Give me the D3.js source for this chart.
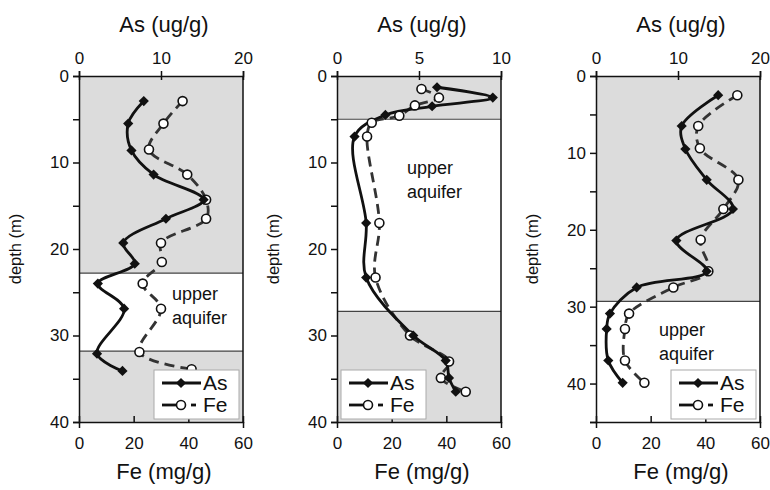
<!DOCTYPE html>
<html><head><meta charset="utf-8">
<script src="https://cdn.jsdelivr.net/npm/d3@7"></script>
<style>
body{margin:0;background:#fff;}
svg text{font-family:"Liberation Sans",Arial,sans-serif;fill:#111;}
</style></head>
<body><svg id="c" width="770" height="490"></svg>
<script>
// ---- data ----
const w1AsDepth = [2.9,5.5,8.6,11.4,14.3,16.5,19.3,21.7,24.0,26.9,32.1,34.1];
const w1As      = [7.9,6.0,6.4,9.1,15.2,10.6,5.4,6.8,2.3,5.5,2.2,5.3];
const w1FeDepth = [2.9,5.5,8.5,11.4,14.3,16.5,19.3,21.5,24.0,26.9,31.9,33.9];
const w1Fe      = [37.9,30.9,25.6,39.6,46.5,46.5,30.0,30.3,23.3,30.0,22.1,41.2];

const w2AsDepth = [1.3,2.5,3.5,4.5,7.0,17.0,23.3,30.0,32.9,34.9,36.5];
const w2As      = [6.1,9.5,5.8,2.95,1.07,1.78,1.78,4.65,6.63,6.83,7.24];
const w2FeDepth = [1.5,2.5,3.4,4.6,5.4,7.0,17.0,23.3,30.0,33.0,34.9,36.5];
const w2Fe      = [30.9,37.3,28.5,22.8,12.7,11.0,15.5,14.1,26.7,41.0,38.0,47.1];

const w3AsDepth = [2.5,6.5,9.5,13.5,17.3,21.4,25.4,27.5,30.9,32.9,37.0,39.9];
const w3As      = [14.9,10.45,10.9,13.5,16.7,9.8,13.5,4.96,1.7,1.3,1.5,3.25];
const w3FeDepth = [2.5,6.5,9.4,13.5,17.3,21.3,25.4,27.5,30.9,32.9,37.0,39.9];
const w3Fe      = [51.7,37.4,38.0,52.1,46.6,38.3,41.1,28.3,12.1,10.6,10.6,17.7];

const asMax     = [20,10,20];
const asTicks   = [[0,10,20],[0,5,10],[0,10,20]];
const feTicks   = [0,20,40,60];
const depthMax  = [40,40,45];
const depthLabelTicks = [[0,10,20,30,40],[0,10,20,30,40],[0,10,20,30,40]];
const grayZones = [[[0,22.8],[31.8,40]],[[0,5],[27.2,40]],[[0,29.3]]];
const aquiferLabelDepth = [25.9,11.3,33.8];
const seriesNames = ["As","Fe"];

// ---- layout ----
const svg = d3.select("#c");
const plotLeft = [79,337,596];
const plotW = 164;
const plotTop = 76, plotBottom = 422;
const legendPos = ["right","left","right"];
const aquiferLabelOffset = [93,70,63];

const panels = [
  {asD:w1AsDepth, as:w1As, feD:w1FeDepth, fe:w1Fe},
  {asD:w2AsDepth, as:w2As, feD:w2FeDepth, fe:w2Fe},
  {asD:w3AsDepth, as:w3As, feD:w3FeDepth, fe:w3Fe}
];

const diamond = d3.symbol().type(d3.symbolSquare).size(52);

panels.forEach((p,i)=>{
  const L = plotLeft[i], R = L+plotW;
  const y = d3.scaleLinear().domain([0,depthMax[i]]).range([plotTop,plotBottom]);
  const xAs = d3.scaleLinear().domain([0,asMax[i]]).range([L,R]);
  const xFe = d3.scaleLinear().domain([0,60]).range([L,R]);
  const g = svg.append("g");

  grayZones[i].forEach(z=>{
    g.append("rect").attr("x",L).attr("width",plotW)
      .attr("y",y(z[0])).attr("height",y(z[1])-y(z[0]))
      .attr("fill","#dcdcdc");
  });
  grayZones[i].forEach(z=>{
    z.forEach(v=>{
      if(v>0 && v<depthMax[i]){
        g.append("line").attr("x1",L).attr("x2",R).attr("y1",y(v)).attr("y2",y(v))
          .attr("stroke","#444").attr("stroke-width",1.2);
      }
    });
  });

  g.append("line").attr("x1",R).attr("x2",R).attr("y1",plotTop).attr("y2",plotBottom).attr("stroke","#111").attr("stroke-width",1.5);

  const yAxis = d3.axisLeft(y).tickValues(d3.range(0,depthMax[i]+0.1,5)).tickSize(6)
    .tickFormat(d=>depthLabelTicks[i].includes(d)?d:"");
  const ga = g.append("g").attr("transform",`translate(${L},0)`).call(yAxis);
  const topAxis = d3.axisTop(xAs).tickValues(asTicks[i]).tickSize(5).tickFormat(d3.format("d"));
  const gt = g.append("g").attr("transform",`translate(0,${plotTop})`).call(topAxis);
  const botAxis = d3.axisBottom(xFe).tickValues(feTicks).tickSize(-6).tickFormat(d3.format("d"));
  const gb = g.append("g").attr("transform",`translate(0,${plotBottom})`).call(botAxis);
  [ga,gt,gb].forEach(a=>{
    a.selectAll(".domain").attr("stroke","#111").attr("stroke-width",1.5);
    a.selectAll(".tick line").attr("stroke","#111").attr("stroke-width",1.5);
    a.selectAll("text").attr("font-size",17).style("font-family","'Liberation Sans',Arial,sans-serif").attr("fill","#111");
  });
  gt.selectAll(".tick line").attr("y2",-5).attr("y1",4);
  gt.selectAll("text").attr("y",-12);
  gb.selectAll("text").attr("y",15);
  ga.selectAll("text").attr("x",-10);
  gb.selectAll(".tick").filter(d=>d===0||d===60).select("line").attr("y1",6).attr("y2",0);

  g.append("text").attr("x",(L+R)/2+3).attr("y",32).attr("text-anchor","middle").attr("font-size",22).text("As (ug/g)");
  g.append("text").attr("x",(L+R)/2+3).attr("y",479).attr("text-anchor","middle").attr("font-size",22).text("Fe (mg/g)");
  g.append("text").attr("transform",`translate(${L-58},249) rotate(-90)`).attr("text-anchor","middle").attr("font-size",16.5).text("depth (m)");

  const ax = L + aquiferLabelOffset[i];
  const aq = g.append("text").attr("x",ax).attr("y",y(aquiferLabelDepth[i])).attr("font-size",18);
  aq.append("tspan").attr("x",ax).text("upper");
  aq.append("tspan").attr("x",ax).attr("dy",24).text("aquifer");

  const curve = d3.curveCatmullRom.alpha(0.5);
  const asPts = p.as.map((v,k)=>[xAs(v),y(p.asD[k])]);
  const fePts = p.fe.map((v,k)=>[xFe(v),y(p.feD[k])]);
  const line = d3.line().curve(curve);
  g.append("path").attr("d",line(fePts)).attr("fill","none").attr("stroke","#333").attr("stroke-width",2.8).attr("stroke-dasharray","10,6");
  g.append("path").attr("d",line(asPts)).attr("fill","none").attr("stroke","#111").attr("stroke-width",2.8);
  fePts.forEach(pt=>g.append("circle").attr("cx",pt[0]).attr("cy",pt[1]).attr("r",4.5).attr("fill","#fff").attr("stroke","#111").attr("stroke-width",1.6));
  asPts.forEach(pt=>g.append("path").attr("d",diamond).attr("transform",`translate(${pt[0]},${pt[1]}) rotate(45)`).attr("fill","#111"));

  const lw = 85, lh = 49;
  const lx = legendPos[i]==="right" ? R-4-lw : L+4;
  const ly = plotBottom-3-lh;
  const lg = g.append("g").attr("transform",`translate(${lx},${ly})`);
  lg.append("rect").attr("width",lw).attr("height",lh).attr("fill","#fff").attr("stroke","#aaa").attr("stroke-width",1);
  seriesNames.forEach((n,k)=>{
    const yy = 13 + k*22;
    if(k===0){
      lg.append("line").attr("x1",8).attr("x2",47).attr("y1",yy).attr("y2",yy).attr("stroke","#111").attr("stroke-width",2.8);
      lg.append("path").attr("d",diamond).attr("transform",`translate(27,${yy}) rotate(45)`).attr("fill","#111");
    } else {
      lg.append("line").attr("x1",8).attr("x2",22).attr("y1",yy).attr("y2",yy).attr("stroke","#111").attr("stroke-width",2.8);
      lg.append("line").attr("x1",37).attr("x2",42).attr("y1",yy).attr("y2",yy).attr("stroke","#111").attr("stroke-width",2.8);
      lg.append("circle").attr("cx",27).attr("cy",yy).attr("r",4.5).attr("fill","#fff").attr("stroke","#111").attr("stroke-width",1.6);
    }
    lg.append("text").attr("x",49).attr("y",yy+7).attr("font-size",21).text(n);
  });
});
</script></body></html>
